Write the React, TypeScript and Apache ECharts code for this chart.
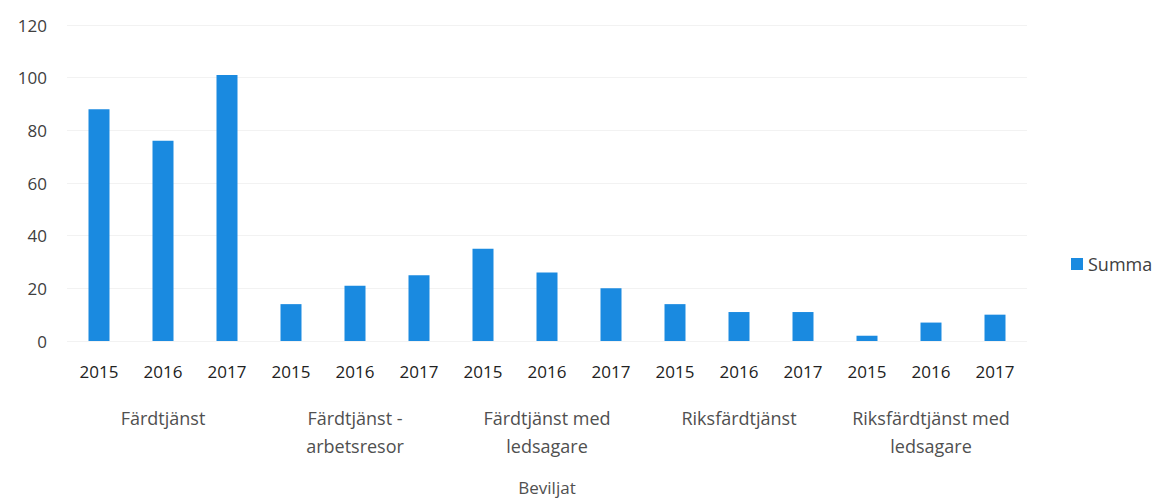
import React, { useEffect, useRef } from "react";
import * as echarts from "echarts";

const years = [
  "2015", "2016", "2017",
  "2015", "2016", "2017",
  "2015", "2016", "2017",
  "2015", "2016", "2017",
  "2015", "2016", "2017",
];
const groups = [
  "Färdtjänst",
  "Färdtjänst -\narbetsresor",
  "Färdtjänst med\nledsagare",
  "Riksfärdtjänst",
  "Riksfärdtjänst med\nledsagare",
];
const outerLabel = "Beviljat";
const seriesName = "Summa";
const values = [88, 76, 101, 14, 21, 25, 35, 26, 20, 14, 11, 11, 2, 7, 10];
const yTicks = { min: 0, max: 120, interval: 20 };

const FONT = "'Open Sans', sans-serif";

export default function App() {
  const ref = useRef<HTMLDivElement>(null);
  useEffect(() => {
    if (!ref.current) return;
    const chart = echarts.init(ref.current, null, { renderer: "svg" });
    chart.setOption({
      animation: false,
      textStyle: { fontFamily: FONT },
      grid: { left: 67, right: 132, top: 25, bottom: 160, containLabel: false, outerBoundsMode: "none" },
      legend: {
        data: [seriesName],
        left: 1066,
        top: 250,
        icon: "rect",
        itemWidth: 12,
        itemHeight: 12,
        itemGap: 5,
        textStyle: { fontSize: 18, color: "#404040", fontFamily: FONT },
      },
      xAxis: [
        {
          type: "category",
          data: years,
          position: "bottom",
          axisLine: { show: false },
          axisTick: { show: false },
          axisLabel: {
            interval: 0,
            margin: 22,
            fontSize: 17,
            color: "#222222",
            fontFamily: FONT,
          },
          name: outerLabel,
          nameLocation: "middle",
          nameGap: 138,
          nameTextStyle: { fontSize: 17, color: "#505050", fontFamily: FONT },
        },
        {
          type: "category",
          data: groups,
          position: "bottom",
          axisLine: { show: false },
          axisTick: { show: false },
          axisLabel: {
            interval: 0,
            margin: 63,
            fontSize: 18,
            lineHeight: 28,
            color: "#505050",
            fontFamily: FONT,
          },
        },
      ],
      yAxis: {
        type: "value",
        min: yTicks.min,
        max: yTicks.max,
        interval: yTicks.interval,
        axisLine: { show: false },
        axisTick: { show: false },
        axisLabel: { fontSize: 17, color: "#404040", margin: 20, fontFamily: FONT },
        splitLine: { lineStyle: { color: "#f2f2f2", width: 1 } },
      },
      series: [
        {
          name: seriesName,
          type: "bar",
          xAxisIndex: 0,
          data: values,
          barWidth: 21,
          itemStyle: { color: "#1a8ae0" },
        },
      ],
    });
    return () => chart.dispose();
  }, []);
  return <div ref={ref} style={{ width: 1159, height: 501, position: "absolute", left: 0, top: 0, background: "#fff" }} />;
}
